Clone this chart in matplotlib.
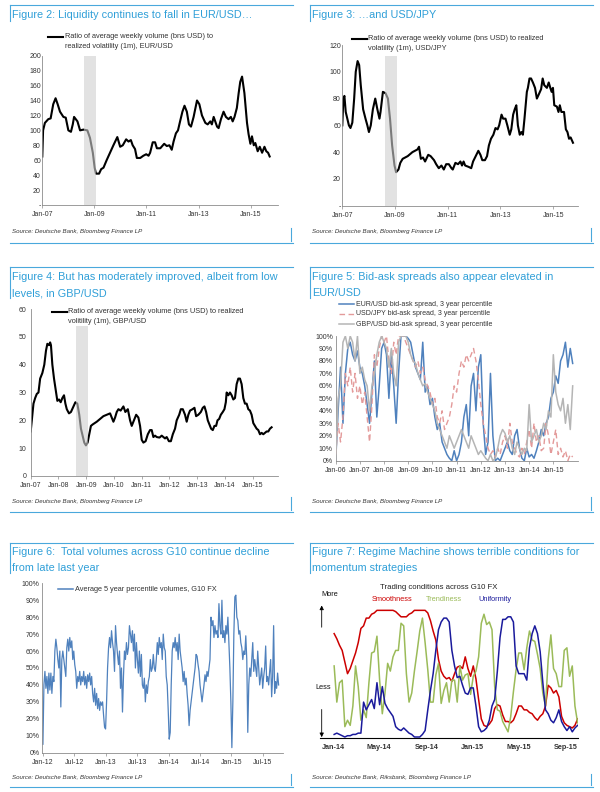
import numpy as np
import pandas as pd
import matplotlib
matplotlib.use('Agg')
import matplotlib.pyplot as plt
import matplotlib.dates as mdates
from matplotlib.lines import Line2D

plt.rcParams['font.family'] = ['Liberation Sans', 'DejaVu Sans']

# ---------------- data ----------------
# Figure 2: EUR/USD volume / vol ratio
eur_years = [2007.00, 2007.03, 2007.10, 2007.23, 2007.32, 2007.42, 2007.51, 2007.59, 2007.68, 2007.81,
             2007.90, 2008.00, 2008.10, 2008.17, 2008.22, 2008.35, 2008.45, 2008.58, 2008.73, 2008.83,
             2008.94, 2009.01, 2009.06, 2009.18, 2009.26, 2009.35, 2009.47, 2009.60, 2009.73, 2009.88,
             2009.99, 2010.09, 2010.22, 2010.31, 2010.40, 2010.47, 2010.56, 2010.63, 2010.76, 2010.88,
             2010.99, 2011.08, 2011.14, 2011.24, 2011.33, 2011.40, 2011.53, 2011.68, 2011.78, 2011.88,
             2011.97, 2012.04, 2012.13, 2012.21, 2012.29, 2012.38, 2012.46, 2012.55, 2012.63, 2012.71,
             2012.81, 2012.94, 2013.03, 2013.13, 2013.26, 2013.35, 2013.45, 2013.51, 2013.58, 2013.71,
             2013.77, 2013.86, 2013.96, 2014.05, 2014.15, 2014.24, 2014.31, 2014.38, 2014.47, 2014.54,
             2014.60, 2014.67, 2014.76, 2014.86, 2014.92, 2014.99, 2015.05, 2015.12, 2015.18, 2015.27,
             2015.35, 2015.44, 2015.53, 2015.60, 2015.67, 2015.73]
eur_vals = [65, 100, 110, 115, 116, 135, 143, 135, 125, 118,
            117, 100, 98, 108, 118, 112, 100, 101, 100, 90,
            70, 50, 42, 42, 48, 50, 60, 70, 80, 91,
            78, 80, 88, 85, 87, 80, 75, 63, 63, 66,
            68, 66, 70, 84, 84, 76, 76, 82, 79, 80,
            74, 85, 96, 100, 112, 125, 133, 125, 108, 105,
            118, 140, 135, 120, 110, 108, 112, 108, 118, 105,
            103, 115, 125, 118, 115, 118, 112, 118, 130, 150,
            165, 172, 150, 110, 95, 82, 92, 80, 83, 72,
            78, 70, 78, 72, 70, 65]

# Figure 3: USD/JPY
jpy_years = [2007.00, 2007.04, 2007.08, 2007.13, 2007.19, 2007.25, 2007.31, 2007.38, 2007.45, 2007.51,
             2007.58, 2007.64, 2007.70, 2007.79, 2007.88, 2007.95, 2008.01, 2008.08, 2008.16, 2008.25,
             2008.33, 2008.41, 2008.45, 2008.54, 2008.64, 2008.73, 2008.81, 2008.89, 2008.98, 2009.04,
             2009.13, 2009.20, 2009.29, 2009.48, 2009.66, 2009.85, 2009.91, 2009.98, 2010.06, 2010.14,
             2010.26, 2010.35, 2010.48, 2010.56, 2010.66, 2010.76, 2010.85, 2010.94, 2011.04, 2011.14,
             2011.19, 2011.29, 2011.39, 2011.48, 2011.54, 2011.60, 2011.66, 2011.79, 2011.89, 2011.96,
             2012.06, 2012.16, 2012.24, 2012.31, 2012.41, 2012.49, 2012.56, 2012.64, 2012.73, 2012.81,
             2012.89, 2012.95, 2013.04, 2013.10, 2013.19, 2013.26, 2013.35, 2013.41, 2013.48, 2013.54,
             2013.60, 2013.66, 2013.73, 2013.79, 2013.85, 2013.91, 2014.00, 2014.04, 2014.10, 2014.16,
             2014.23, 2014.31, 2014.38, 2014.45, 2014.54, 2014.60, 2014.66, 2014.76, 2014.83, 2014.89,
             2014.94, 2014.99, 2015.04, 2015.14, 2015.20, 2015.25, 2015.31, 2015.41, 2015.48, 2015.54,
             2015.60, 2015.66, 2015.75]
jpy_vals = [60, 80, 82, 70, 65, 60, 58, 62, 80, 100,
            108, 105, 90, 72, 65, 60, 55, 60, 72, 80,
            72, 65, 70, 85, 84, 80, 65, 45, 30, 25,
            27, 32, 35, 37, 40, 42, 44, 35, 36, 33,
            38, 37, 34, 31, 28, 30, 27, 31, 31, 28,
            27, 32, 31, 33, 30, 33, 30, 29, 28, 33,
            37, 41, 38, 34, 34, 37, 45, 50, 53, 58,
            57, 60, 68, 65, 65, 60, 53, 57, 68, 72,
            75, 60, 53, 55, 53, 65, 85, 88, 95, 95,
            92, 88, 80, 83, 87, 95, 90, 88, 92, 88,
            85, 88, 75, 74, 70, 75, 70, 70, 57, 55,
            50, 51, 47]

# Figure 4: GBP/USD
gbp_years = [2007.00, 2007.04, 2007.10, 2007.16, 2007.22, 2007.28, 2007.34, 2007.42, 2007.49, 2007.55,
             2007.60, 2007.66, 2007.70, 2007.73, 2007.78, 2007.84, 2007.90, 2007.96, 2008.02, 2008.08,
             2008.14, 2008.20, 2008.25, 2008.30, 2008.38, 2008.45, 2008.54, 2008.61, 2008.68, 2008.75,
             2008.81, 2008.87, 2008.93, 2008.99, 2009.05, 2009.11, 2009.17, 2009.23, 2009.38, 2009.50,
             2009.62, 2009.74, 2009.86, 2009.98, 2010.04, 2010.10, 2010.16, 2010.24, 2010.34, 2010.41,
             2010.50, 2010.58, 2010.64, 2010.72, 2010.80, 2010.88, 2010.94, 2011.00, 2011.06, 2011.14,
             2011.22, 2011.30, 2011.36, 2011.42, 2011.48, 2011.54, 2011.64, 2011.72, 2011.78, 2011.84,
             2011.90, 2011.98, 2012.05, 2012.12, 2012.20, 2012.26, 2012.35, 2012.41, 2012.48, 2012.56,
             2012.62, 2012.68, 2012.74, 2012.83, 2012.90, 2012.96, 2013.04, 2013.13, 2013.20, 2013.26,
             2013.32, 2013.38, 2013.44, 2013.50, 2013.56, 2013.62, 2013.68, 2013.73, 2013.79, 2013.85,
             2013.92, 2013.98, 2014.03, 2014.06, 2014.12, 2014.18, 2014.24, 2014.30, 2014.36, 2014.42,
             2014.48, 2014.54, 2014.60, 2014.66, 2014.72, 2014.78, 2014.84, 2014.90, 2014.96, 2015.02,
             2015.08, 2015.14, 2015.20, 2015.26, 2015.32, 2015.38, 2015.44, 2015.50, 2015.56, 2015.62,
             2015.68]
gbp_vals = [16, 20, 26, 28, 29.5, 30, 35, 37, 40, 45,
            47.5, 47, 48, 47, 40, 35, 31, 27, 27.5, 26.5,
            28, 29, 26, 24, 22.5, 23, 25, 26.5, 26, 22,
            17, 14.5, 12, 11, 12, 15, 18, 18.5, 19.5, 20.5,
            21.5, 22, 22.5, 19.5, 21, 23, 24, 23.5, 25, 23,
            24, 20, 18, 20, 22, 21, 18, 13, 12, 12.5,
            15, 16.5, 16.5, 14, 14.5, 14, 13.8, 14.5, 14, 13.5,
            14, 12.5, 12.5, 15, 17, 20, 22, 24, 24, 22,
            19.5, 22, 23.5, 24, 24.5, 21.5, 22, 23, 24.5, 25,
            23, 20, 18.5, 17, 16.5, 18, 18, 20, 20.5, 22,
            23, 24, 26.5, 30, 29, 30, 29, 27.5, 28, 33,
            35, 35, 33, 28, 26, 26, 24, 23.5, 22, 19,
            18, 17, 16.5, 15, 15.5, 15, 15.5, 16, 16, 17,
            17.5]

crisis_span = (2008.62, 2009.08)

# Figure 5: bid-ask spread percentiles, one reading every 0.1 year from Jan-06
spread_start = 2006.0
spread_step = 0.1
spread_eur = [0, 40, 75, 30, 70, 90, 95, 85, 80, 88,
              75, 70, 60, 45, 30, 55, 80, 35, 60, 90,
              95, 85, 50, 85, 60, 30, 70, 100, 100, 100,
              98, 95, 85, 75, 70, 65, 95, 55, 60, 45,
              50, 35, 25, 30, 15, 10, 5, 2, 0, 8,
              0, 5, 15, 35, 45, 20, 60, 70, 40, 75,
              85, 30, 5, 15, 70, 20, 0, 2, 0, 5,
              10, 15, 8, 5, 20, 25, 10, 2, 0, 10,
              3, 5, 2, 8, 15, 25, 20, 30, 35, 50,
              55, 68, 62, 80, 85, 95, 75, 90, 78]
spread_jpy = [5, 30, 15, 35, 70, 60, 75, 55, 70, 50,
              60, 45, 55, 35, 15, 45, 85, 75, 90, 100,
              95, 100, 80, 70, 95, 85, 100, 100, 100, 95,
              90, 85, 80, 75, 80, 70, 75, 65, 60, 55,
              45, 50, 35, 30, 40, 25, 30, 35, 45, 60,
              55, 70, 80, 75, 85, 80, 85, 90, 80, 65,
              45, 30, 20, 10, 5, 8, 3, 10, 5, 15,
              20, 10, 30, 15, 10, 5, 3, 10, 5, 15,
              25, 10, 30, 15, 20, 8, 10, 30, 20, 5,
              15, 25, 5, 10, 3, 8, 0, 5, 3]
spread_gbp = [0, 50, 60, 95, 100, 90, 100, 95, 80, 100,
              70, 75, 65, 60, 40, 60, 70, 85, 95, 100,
              95, 90, 75, 90, 70, 60, 95, 100, 100, 100,
              95, 85, 80, 78, 70, 65, 60, 62, 55, 50,
              45, 40, 30, 25, 20, 15, 10, 20, 15, 10,
              15, 20, 25, 20, 15, 10, 20, 15, 10, 5,
              8, 5, 2, 0, 5, 0, 2, 10, 20, 25,
              22, 15, 20, 10, 5, 15, 10, 5, 10, 8,
              45, 15, 20, 25, 15, 20, 30, 25, 40, 35,
              85, 55, 45, 40, 50, 30, 45, 25, 60]

# Figure 6: average 5y percentile volumes (Jan-12 to Sep-15)
vol_start, vol_end = 2012.0, 2015.75
vol_pct = [5, 40, 48, 38, 45, 35, 47, 37, 47, 35, 45, 42, 60, 67, 62, 55, 50, 60, 27, 55,
           60, 55, 50, 45, 62, 67, 60, 68, 62, 66, 55, 60, 52, 48, 38, 45, 42, 48, 40, 45,
           42, 48, 40, 45, 38, 46, 42, 47, 40, 45, 35, 30, 38, 28, 35, 26, 32, 25, 30, 28,
           30, 22, 15, 14, 30, 50, 62, 68, 62, 72, 65, 60, 48, 75, 65, 58, 52, 60, 38, 50,
           24, 45, 60, 55, 65, 58, 62, 75, 70, 65, 72, 60, 70, 50, 65, 55, 47, 60, 45, 58,
           40, 38, 44, 30, 40, 35, 42, 45, 55, 48, 50, 58, 50, 48, 55, 65, 58, 68, 62, 65,
           55, 70, 62, 60, 45, 40, 25, 8, 12, 40, 60, 65, 62, 68, 60, 65, 55, 70, 60, 55,
           50, 42, 48, 40, 44, 35, 28, 16, 25, 30, 35, 40, 45, 50, 58, 57, 52, 48, 40, 35,
           30, 35, 40, 46, 42, 48, 45, 50, 55, 80, 75, 78, 68, 75, 70, 72, 68, 88, 75, 70,
           90, 68, 72, 65, 75, 70, 80, 65, 50, 30, 3, 30, 70, 92, 93, 80, 78, 70, 72, 65,
           62, 55, 60, 58, 69, 55, 12, 40, 50, 45, 55, 65, 48, 55, 50, 45, 60, 50, 40, 45,
           50, 38, 45, 50, 63, 42, 45, 40, 48, 55, 33, 45, 75, 35, 42, 38, 47, 40]

# Figure 7: regime machine, weekly from Jan-14
regime_start = '2014-01-03'
smoothness = [81, 77, 72, 68, 59, 50, 54, 60, 66, 74,
              85, 87, 93, 93, 96, 97, 99, 99, 99, 99,
              99, 99, 99, 98, 96, 94, 94, 94, 96, 97,
              99, 99, 99, 99, 99, 97, 91, 83, 76, 61,
              52, 48, 46, 47, 44, 50, 55, 56, 54, 63,
              54, 48, 56, 46, 30, 15, 10, 9, 11, 14,
              23, 26, 25, 18, 13, 13, 12, 14, 19, 25,
              25, 22, 22, 20, 19, 16, 14, 17, 19, 25,
              41, 39, 35, 37, 32, 17, 12, 10, 9, 8,
              10, 15]
trendiness = [56, 28, 43, 45, 9, 14, 10, 25, 56, 40,
              14, 22, 16, 43, 66, 67, 79, 45, 19, 35,
              58, 52, 63, 68, 68, 89, 87, 50, 28, 35,
              52, 67, 83, 93, 74, 53, 28, 28, 49, 58,
              27, 37, 43, 28, 45, 45, 28, 56, 45, 49,
              50, 34, 48, 52, 63, 89, 96, 88, 90, 84,
              40, 22, 21, 13, 9, 5, 17, 36, 53, 66,
              66, 53, 70, 83, 76, 75, 65, 54, 35, 25,
              61, 80, 54, 50, 40, 40, 68, 70, 48, 56,
              25, 12]
uniformity = [3, 4, 3, 2, 1, 2, 2, 3, 3, 4,
              4, 28, 22, 26, 30, 23, 43, 26, 40, 27,
              23, 20, 17, 9, 7, 6, 8, 6, 4, 3,
              1, 1, 1, 3, 6, 22, 37, 50, 68, 84,
              90, 93, 93, 90, 68, 56, 47, 48, 41, 35,
              34, 39, 39, 25, 9, 5, 6, 8, 14, 25,
              30, 52, 78, 92, 92, 94, 94, 90, 56, 50,
              50, 50, 45, 70, 81, 87, 81, 67, 43, 22,
              19, 14, 12, 16, 22, 13, 9, 6, 9, 5,
              8, 10]

# ---------------- styling ----------------
W, H = 600, 792
FRAME = '#4aa8dc'
TITLE = '#2f9fd8'
AXIS = '#8c8c8c'
TXT = '#333333'

fig = plt.figure(figsize=(W / 100, H / 100), dpi=100)


def fy(y):
    return 1 - y / H


def px_axes(left, top, right, bottom):
    return fig.add_axes([left / W, fy(bottom), (right - left) / W, (bottom - top) / H])


def fline(xs, ys, **kw):
    fig.add_artist(Line2D([x / W for x in xs], [fy(y) for y in ys], **kw))


def ftext(x, y, s, **kw):
    kw.setdefault('va', 'center')
    fig.text(x / W, fy(y), s, **kw)


def frame(x0, x1, top, bar_end, bottom, bar_start, title_lines, source):
    fline([x0, x1], [top, top], color=FRAME, lw=0.8)
    fline([x0, x0], [top, bar_end], color=FRAME, lw=0.8)
    fline([x0, x1], [bottom, bottom], color=FRAME, lw=0.8)
    fline([x1 - 2, x1 - 2], [bar_start, bottom - 2], color=FRAME, lw=0.8)
    for y, s in title_lines:
        ftext(x0 + 2, y, s, fontsize=7.8, color=TITLE)
    ftext(x0 + 2, bar_start + 4, source, fontsize=4.4, style='italic', color=TXT)


def style_axes(ax, ypad=1.5):
    for side in ['top', 'right']:
        ax.spines[side].set_visible(False)
    for side in ['left', 'bottom']:
        ax.spines[side].set_color(AXIS)
        ax.spines[side].set_linewidth(0.6)
    ax.tick_params(axis='x', labelsize=5, length=2, width=0.5, color=AXIS, labelcolor=TXT, pad=2.5)
    ax.tick_params(axis='y', labelsize=5, length=0, labelcolor=TXT, pad=ypad)
    ax.set_facecolor('none')


def year_labels(years):
    out = []
    for y in years:
        mon = 'Jan' if abs(y - round(y)) < 0.01 else 'Jul'
        out.append(f'{mon}-{int(y) % 100:02d}')
    return out


def legend_entry(x0, y, text, size=5, **kw):
    fline([x0, x0 + 15], [y, y], **kw)
    ftext(x0 + 17, y, text, fontsize=size, color=TXT)


# ---------------- Figure 2 ----------------
frame(10, 293, 5, 21, 243, 228, [(15, 'Figure 2: Liquidity continues to fall in EUR/USD…')],
      'Source: Deutsche Bank, Bloomberg Finance LP')
ax2 = px_axes(42.3, 55.7, 278, 205)
ax2.plot(eur_years, eur_vals, color='black', lw=1.5, zorder=2)
ax2.fill_between(crisis_span, 0, 202, color='#cfcfcf', alpha=0.6, lw=0, zorder=3)
ax2.set_xlim(2007, 2016.05)
ax2.set_ylim(0, 200)
ax2.set_yticks(range(0, 201, 20))
ax2.set_yticklabels(['-'] + [str(v) for v in range(20, 201, 20)])
xt = [2007, 2009, 2011, 2013, 2015]
ax2.set_xticks(xt)
ax2.set_xticklabels(year_labels(xt))
style_axes(ax2, ypad=1)
fline([48, 63], [37, 37], color='black', lw=1.5)
ftext(65, 37, 'Ratio of average weekly volume (bns USD) to', fontsize=5.3, color=TXT)
ftext(65, 47, 'realized volatility (1m), EUR/USD', fontsize=5.3, color=TXT)

# ---------------- Figure 3 ----------------
frame(310, 593, 5, 21, 243, 228, [(15, 'Figure 3: …and USD/JPY')],
      'Source: Deutsche Bank, Bloomberg Finance LP')
ax3 = px_axes(342.3, 45, 578, 205.7)
ax3.plot(jpy_years, jpy_vals, color='black', lw=1.5, zorder=2)
ax3.fill_between(crisis_span, 0, 112, color='#cfcfcf', alpha=0.6, lw=0, zorder=3)
ax3.set_xlim(2007, 2015.94)
ax3.set_ylim(0, 120)
ax3.set_yticks(range(0, 121, 20))
ax3.set_yticklabels(['-'] + [str(v) for v in range(20, 121, 20)])
ax3.set_xticks(xt)
ax3.set_xticklabels(year_labels(xt))
style_axes(ax3, ypad=1)
fline([351.7, 366.7], [39, 39], color='black', lw=1.5)
ftext(368, 39, 'Ratio of average weekly volume (bns USD) to realized', fontsize=5.3, color=TXT)
ftext(368, 49, 'volatility (1m), USD/JPY', fontsize=5.3, color=TXT)

# ---------------- Figure 4 ----------------
frame(10, 293, 266.7, 298, 511.7, 497,
      [(276.7, 'Figure 4: But has moderately improved, albeit from low'),
       (293.3, 'levels, in GBP/USD')],
      'Source: Deutsche Bank, Bloomberg Finance LP')
ax4 = px_axes(30.7, 309, 278, 476)
ax4.plot(gbp_years, gbp_vals, color='black', lw=1.5, zorder=2)
ax4.fill_between(crisis_span, 0, 54, color='#cfcfcf', alpha=0.6, lw=0, zorder=3)
ax4.set_xlim(2007, 2015.91)
ax4.set_ylim(0, 60)
ax4.set_yticks(range(0, 61, 10))
xt4 = list(range(2007, 2016))
ax4.set_xticks(xt4)
ax4.set_xticklabels(year_labels(xt4))
style_axes(ax4, ypad=3)
fline([51.7, 66.7], [311.7, 311.7], color='black', lw=1.5)
ftext(68, 311.7, 'Ratio of average weekly volume (bns USD) to realized', fontsize=5.3, color=TXT)
ftext(68, 321.7, 'volitility (1m), GBP/USD', fontsize=5.3, color=TXT)

# ---------------- Figure 5 ----------------
frame(310, 593, 266.7, 298, 511.7, 497,
      [(276.7, 'Figure 5: Bid-ask spreads also appear elevated in'),
       (293.3, 'EUR/USD')],
      'Source: Deutsche Bank, Bloomberg Finance LP')
ax5 = px_axes(335.7, 336, 578, 460.7)
t5 = spread_start + spread_step * np.arange(len(spread_eur))
ax5.plot(t5, spread_eur, color='#4f81bd', lw=1.1, zorder=2)
ax5.plot(t5, spread_jpy, color='#e39a9a', lw=1.0, ls=(0, (4, 2.5)), zorder=3)
ax5.plot(t5, spread_gbp, color='#b5b5b5', lw=1.1, zorder=4)
ax5.set_xlim(2006, 2016.02)
ax5.set_ylim(0, 100)
ax5.set_yticks(range(0, 101, 10))
ax5.set_yticklabels([f'{v}%' for v in range(0, 101, 10)])
xt5 = list(range(2006, 2016))
ax5.set_xticks(xt5)
ax5.set_xticklabels(year_labels(xt5))
style_axes(ax5, ypad=2)
legend_entry(339.3, 304.3, 'EUR/USD bid-ask spread, 3 year percentile', color='#4f81bd', lw=1.1)
legend_entry(339.3, 314, 'USD/JPY bid-ask spread, 3 year percentile', color='#e39a9a', lw=1.0,
             ls=(0, (4, 2.5)))
legend_entry(339.3, 324, 'GBP/USD bid-ask spread, 3 year percentile', color='#b5b5b5', lw=1.1)

# ---------------- Figure 6 ----------------
frame(10, 293, 542.7, 573, 786.7, 774,
      [(552.3, 'Figure 6:  Total volumes across G10 continue decline'),
       (567.7, 'from late last year')],
      'Source: Deutsche Bank, Bloomberg Finance LP')
ax6 = px_axes(42.3, 583.3, 283, 752.7)
t6 = np.linspace(vol_start, vol_end, len(vol_pct))
ax6.plot(t6, vol_pct, color='#4f81bd', lw=0.9)
ax6.set_xlim(2011.99, 2015.82)
ax6.set_ylim(0, 100)
ax6.set_yticks(range(0, 101, 10))
ax6.set_yticklabels([f'{v}%' for v in range(0, 101, 10)])
xt6 = [2012, 2012.5, 2013, 2013.5, 2014, 2014.5, 2015, 2015.5]
ax6.set_xticks(xt6)
ax6.set_xticklabels(year_labels(xt6))
style_axes(ax6, ypad=2)
legend_entry(57.7, 589.3, 'Average 5 year percentile volumes, G10 FX', size=5.3,
             color='#4f81bd', lw=1.1)

# ---------------- Figure 7 ----------------
frame(310, 593, 542.7, 573, 786.7, 774,
      [(552.3, 'Figure 7: Regime Machine shows terrible conditions for'),
       (567.7, 'momentum strategies')],
      'Source: Deutsche Bank, Riksbank, Bloomberg Finance LP')
ax7 = px_axes(320, 600, 578, 738.3)
d7 = pd.date_range(regime_start, periods=len(smoothness), freq='7D')
ax7.plot(d7, smoothness, color='#cc0000', lw=1.1, zorder=2)
ax7.plot(d7, trendiness, color='#9bbb59', lw=1.1, zorder=3)
ax7.plot(d7, uniformity, color='#1a1a9c', lw=1.1, zorder=4)
ax7.set_xlim(pd.Timestamp('2013-11-27'), pd.Timestamp('2015-10-03'))
ax7.set_ylim(0, 107)
ax7.set_xticks([pd.Timestamp(s) for s in ['2014-01-01', '2014-05-01', '2014-09-01',
                                          '2015-01-01', '2015-05-01', '2015-09-01']])
ax7.xaxis.set_major_formatter(mdates.DateFormatter('%b-%y'))
for side in ['top', 'right', 'left']:
    ax7.spines[side].set_visible(False)
ax7.spines['bottom'].set_color('black')
ax7.spines['bottom'].set_linewidth(0.8)
ax7.set_yticks([])
ax7.tick_params(axis='x', labelsize=5.2, length=0, pad=4, labelcolor='#333333')
for lab in ax7.get_xticklabels():
    lab.set_fontweight('bold')
ax7.set_facecolor('none')
ftext(438.3, 587.7, 'Trading conditions across G10 FX', fontsize=5.6, color='#222222', ha='center')
ftext(392, 599.3, 'Smoothness', fontsize=5.3, color='#cc0000', ha='center')
ftext(443.7, 599.3, 'Trendiness', fontsize=5.3, color='#9bbb59', ha='center')
ftext(495.3, 599.3, 'Uniformity', fontsize=5.3, color='#1a1a9c', ha='center')
ftext(330, 594, 'More', fontsize=5.3, color='#111111', ha='center')
ftext(323, 687.7, 'Less', fontsize=5.3, color='#111111', ha='center')
arrow = dict(arrowstyle='-|>', color='black', lw=0.6, mutation_scale=6)
ax7.annotate('', xy=(321.7, H - 602.7), xytext=(321.7, H - 630), xycoords='figure pixels',
             textcoords='figure pixels', arrowprops=arrow, annotation_clip=False)
ax7.annotate('', xy=(321.7, H - 740), xytext=(321.7, H - 706.7), xycoords='figure pixels',
             textcoords='figure pixels', arrowprops=arrow, annotation_clip=False)

fig.savefig('out.png', dpi=100)
